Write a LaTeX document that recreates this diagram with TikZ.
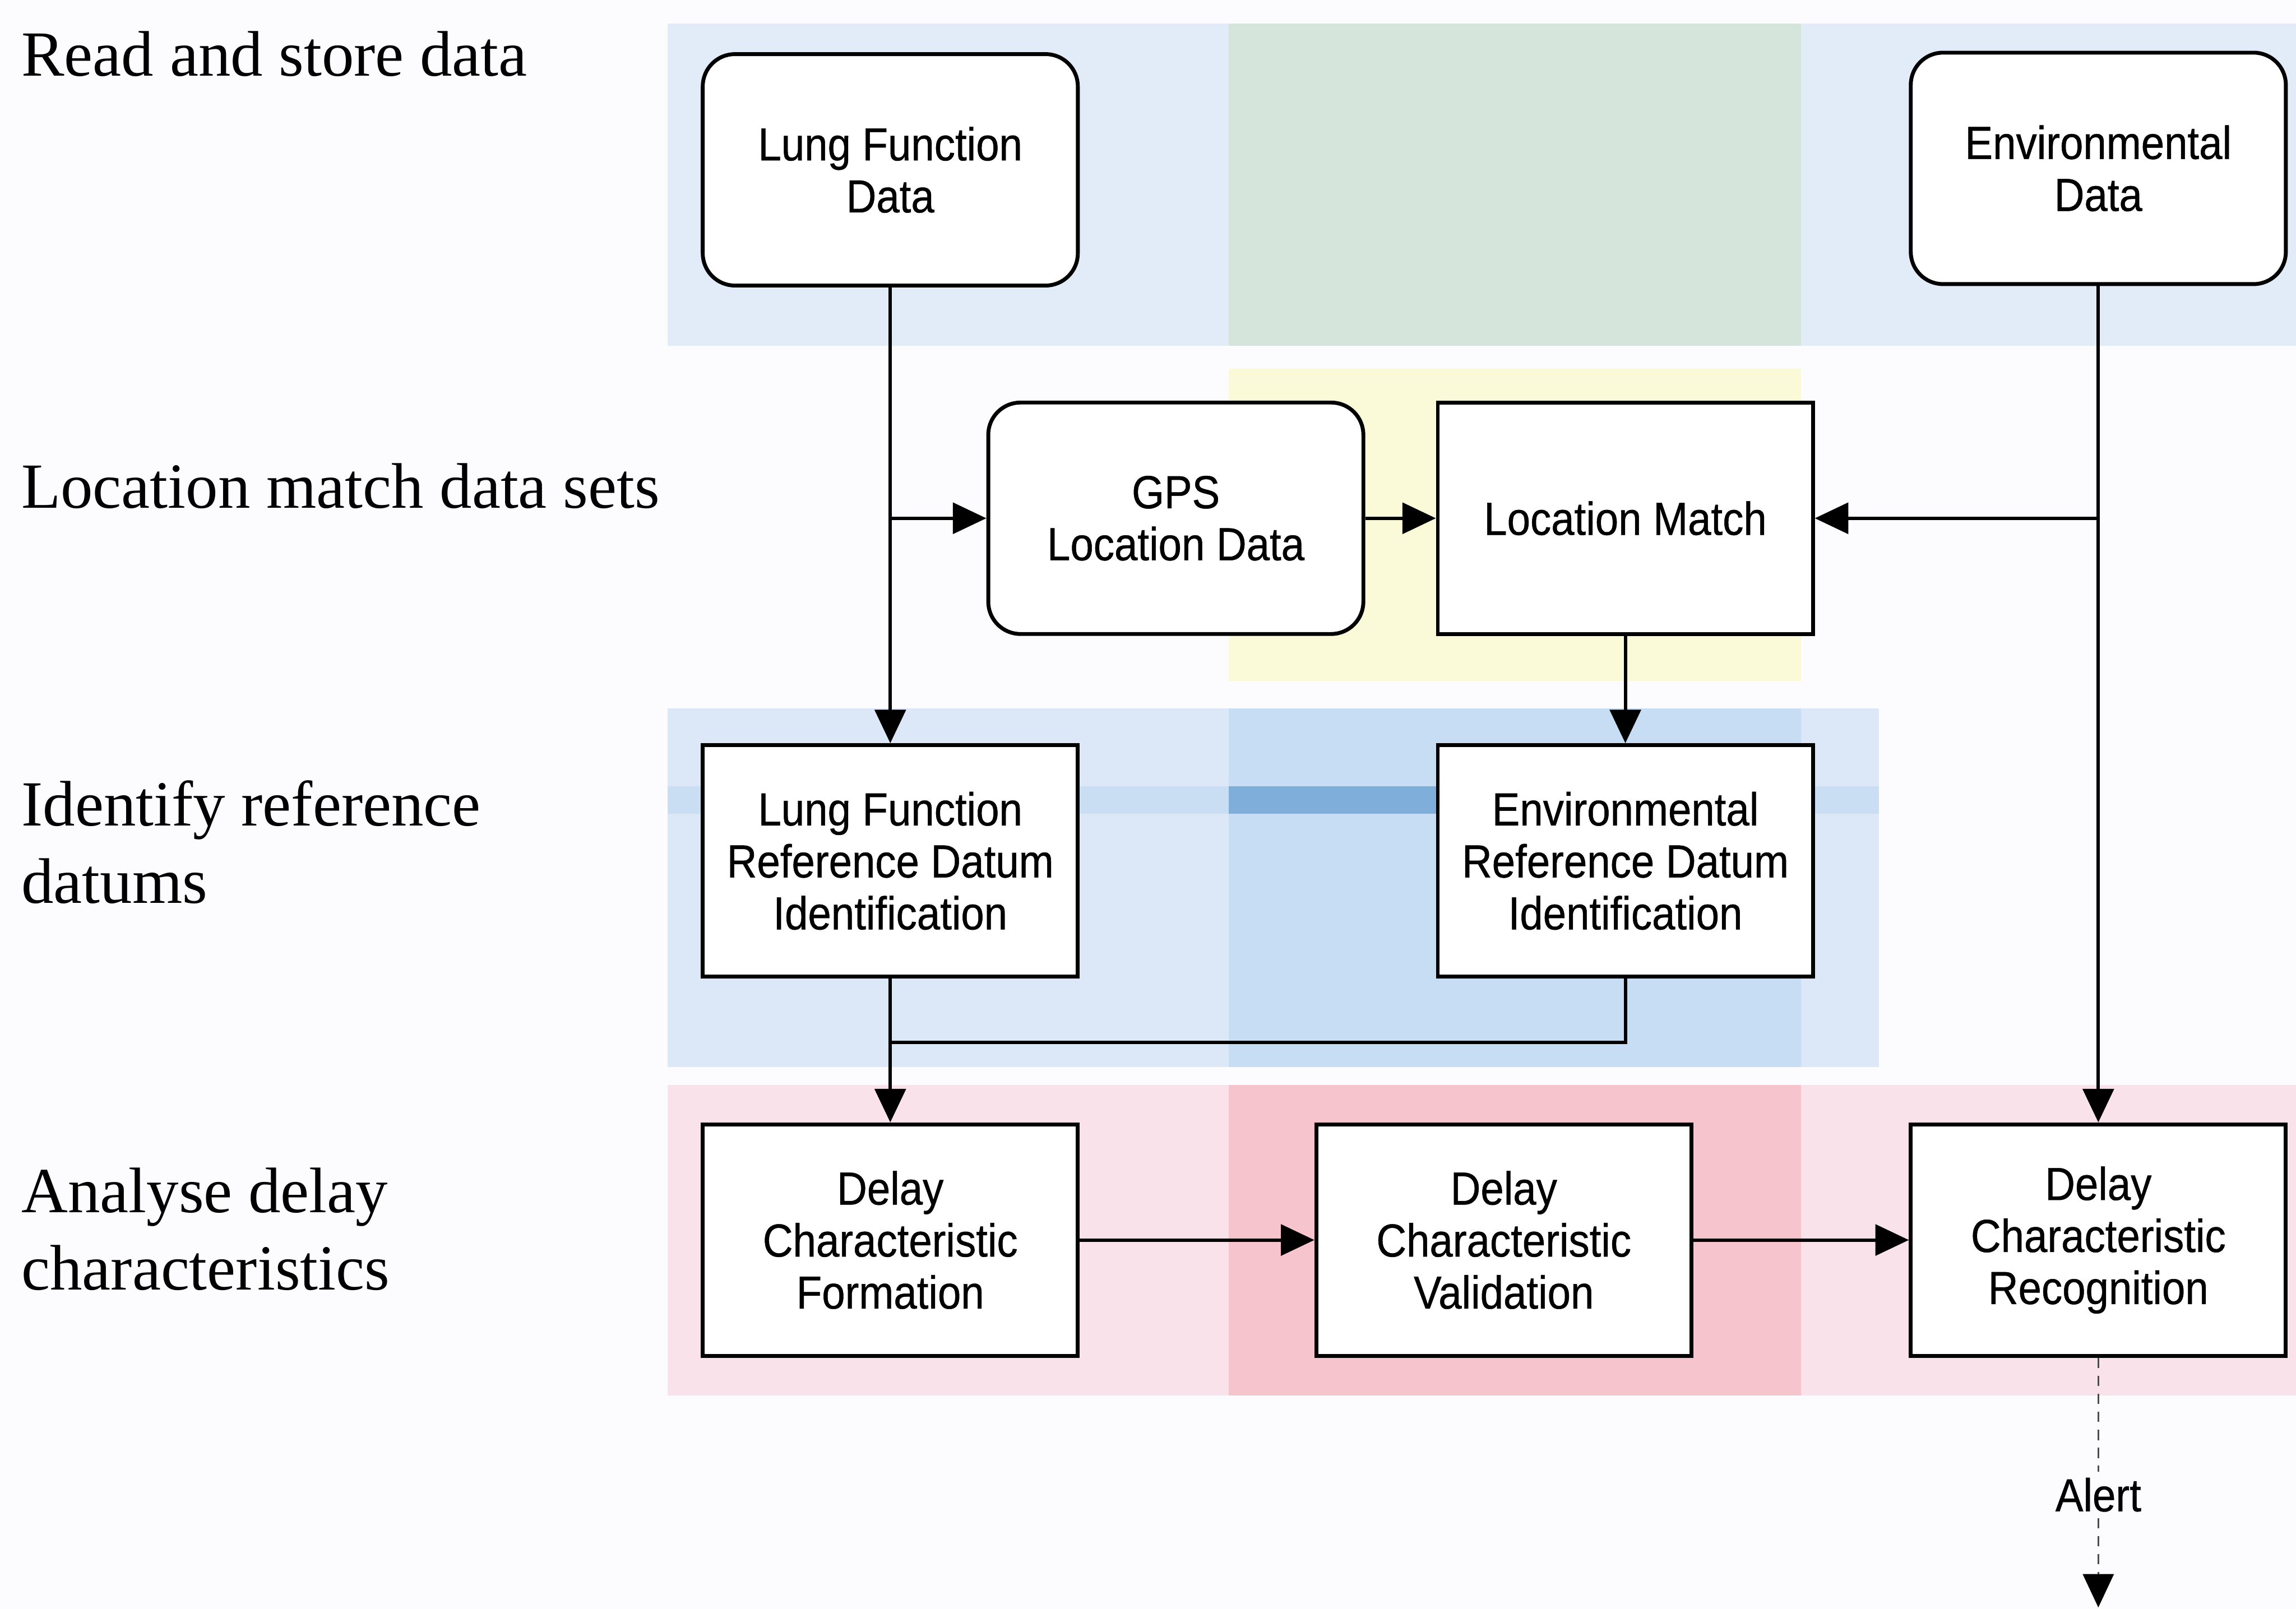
\documentclass[tikz,border=0pt]{standalone}
\usepackage{fontspec}
\setmainfont{Liberation Serif}
\newfontfamily\boxfont[FakeStretch=0.9, FakeBold=0.6]{Liberation Sans}
\usetikzlibrary{arrows.meta}

\definecolor{pagebg}{HTML}{FCFCFE}
\definecolor{bandblue}{HTML}{E2ECF8}
\definecolor{bandgreen}{HTML}{D6E5DC}
\definecolor{bandyellow}{HTML}{FBFAD8}
\definecolor{bandblueB}{HTML}{DCE8F7}
\definecolor{bandblueC}{HTML}{C6DDF3}
\definecolor{stripeA}{HTML}{C9DEF3}
\definecolor{stripeB}{HTML}{7FAEDB}
\definecolor{bandpink}{HTML}{FAE2EA}
\definecolor{bandred}{HTML}{F5C4CC}

\tikzset{
  stage/.style={font=\fontsize{12.5}{15}\selectfont, align=left, inner sep=0pt, anchor=base west},
  procbox/.style={draw=black, line width=0.75pt, fill=white, minimum width=2.56cm,
    minimum height=1.58cm, inner sep=0pt, align=center,
    font=\boxfont\fontsize{9}{10.1}\selectfont},
  databox/.style={procbox, rounded corners=0.22cm},
  flow/.style={line width=0.65pt, -{Triangle[length=6.5pt,width=6pt]}},
  link/.style={line width=0.65pt},
  alertline/.style={line width=0.4pt, draw=black!70, dash pattern=on 2pt off 1.5pt},
  lbl/.style={font=\boxfont\fontsize{9}{10}\selectfont, inner sep=1pt}
}

\begin{document}
\begin{tikzpicture}[x=0.01cm, y=-0.01cm]
  % page
  \fill[pagebg] (0,0) rectangle (1568,1099);
  \useasboundingbox (0,0) rectangle (1568,1099);

  % highlighted bands behind each stage
  \fill[bandblue]   (456,16)  rectangle (1568,236);
  \fill[bandgreen]  (839,16)  rectangle (1230,236);
  \fill[bandyellow] (839,252) rectangle (1230,465);
  \fill[bandblueB]  (456,484) rectangle (1283,729);
  \fill[bandblueC]  (839,484) rectangle (1230,729);
  \fill[stripeA]    (456,537) rectangle (1283,556);
  \fill[stripeB]    (839,537) rectangle (1230,556);
  \fill[bandpink]   (456,741) rectangle (1568,953);
  \fill[bandred]    (839,741) rectangle (1230,953);

  % stage labels (multi-line labels sit on the baseline of their last line)
  \node[stage] (s1) at (14,52)  {Read and store data};
  \node[stage] (s2) at (14,347) {Location match data sets};
  \node[stage] (s3) at (14,617) {Identify reference\\datums};
  \node[stage] (s4) at (14,881) {Analyse delay\\characteristics};

  % data sources
  \node[databox] (lfd)  at (608,116)  {Lung Function\\Data};
  \node[databox] (env)  at (1433,115) {Environmental\\Data};
  \node[databox] (gps)  at (803,354)  {GPS\\Location Data};

  % processing steps
  \node[procbox] (locm)  at (1110,354) {Location Match};
  \node[procbox] (lfrdi) at (608,588)  {Lung Function\\Reference Datum\\Identification};
  \node[procbox] (erdi)  at (1110,588) {Environmental\\Reference Datum\\Identification};
  \node[procbox] (dcf)   at (608,847)  {Delay\\Characteristic\\Formation};
  \node[procbox] (dcv)   at (1027,847) {Delay\\Characteristic\\Validation};
  \node[procbox] (dcr)   at (1433,847) {Delay\\Characteristic\\Recognition};

  % connectors
  \coordinate (join) at (608,712);
  \coordinate (alertend) at (1433,1098);

  \draw[flow] (lfd.south) -- (lfrdi.north);
  \draw[flow] (lfd.south |- gps.west) -- (gps.west);
  \draw[flow] (gps.east) -- (locm.west);
  \draw[flow] (env.south |- locm.east) -- (locm.east);
  \draw[flow] (env.south) -- (dcr.north);
  \draw[flow] (locm.south) -- (erdi.north);
  \draw[flow] (lfrdi.south) -- (dcf.north);
  \draw[link] (erdi.south) |- (join);
  \draw[flow] (dcf.east) -- (dcv.west);
  \draw[flow] (dcv.east) -- (dcr.west);

  % alert output
  \node[lbl] (alert) at (1433,1021) {Alert};
  \draw[alertline] (dcr.south) -- (alert.north);
  \draw[alertline, -{Triangle[length=6.5pt,width=6pt,color=black]}] (alert.south) -- (alertend);
\end{tikzpicture}
\end{document}
